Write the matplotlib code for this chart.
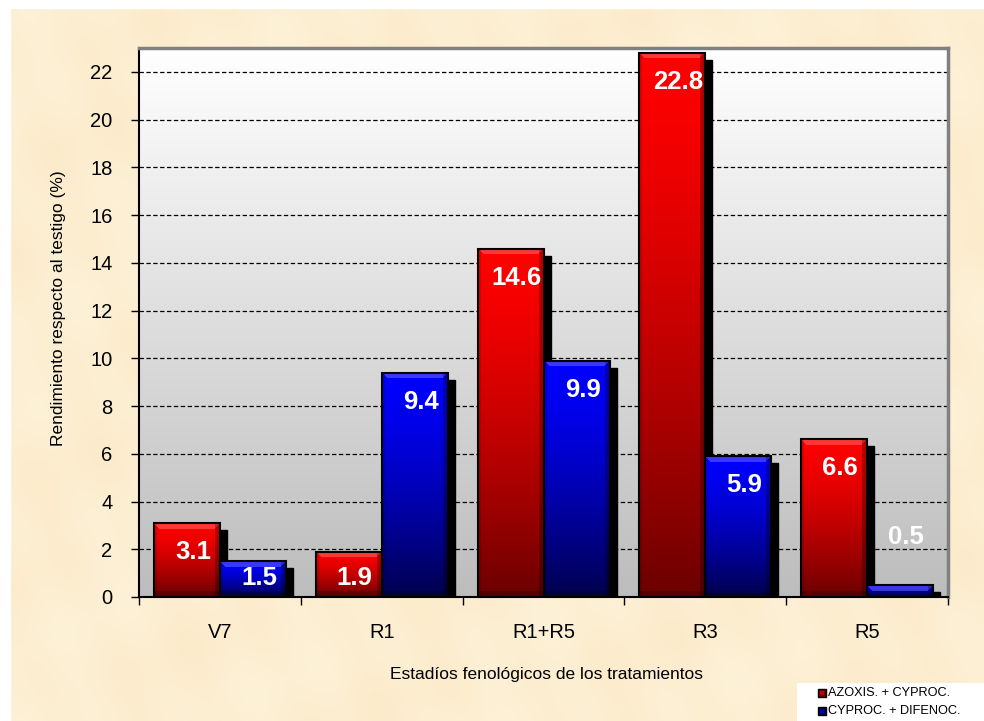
import matplotlib
matplotlib.use("Agg")
import matplotlib.pyplot as plt
import numpy as np
from matplotlib.patches import Rectangle

plt.rcParams["font.family"] = ["Liberation Sans", "DejaVu Sans"]

# datos
estadios = ["V7", "R1", "R1+R5", "R3", "R5"]
azoxis_cyproc = [3.1, 1.9, 14.6, 22.8, 6.6]
cyproc_difenoc = [1.5, 9.4, 9.9, 5.9, 0.5]
series_nombres = ["AZOXIS. + CYPROC.", "CYPROC. + DIFENOC."]
y_ticks = list(range(0, 24, 2))

W, H = 984, 721
fig = plt.figure(figsize=(W / 100, H / 100), dpi=100)

# fondo tipo pergamino
bg = fig.add_axes([0, 0, 1, 1], zorder=-10)
yy, xx = np.mgrid[0:H:4, 0:W:4]
tex = (0.5 + 0.25 * np.sin(xx / 37.0 + yy / 53.0) + 0.2 * np.sin(xx / 13.0 - yy / 29.0)
       + 0.15 * np.cos(xx / 71.0 + yy / 17.0))
base = np.array([0.988, 0.925, 0.800])
claro = np.array([0.995, 0.960, 0.880])
img = base[None, None, :] * (1 - tex[..., None] * 0.5) + claro[None, None, :] * (tex[..., None] * 0.5)
bg.imshow(np.clip(img, 0, 1), extent=[0, W, H, 0], aspect="auto", interpolation="bicubic")
bg.add_patch(Rectangle((0, 0), W, 8, color="white"))
bg.add_patch(Rectangle((0, 0), 10, H, color="white"))
bg.set_xlim(0, W)
bg.set_ylim(H, 0)
bg.axis("off")

# area de trazado
x0, x1, ytop, ybot = 139, 948, 48, 597
ax = fig.add_axes([x0 / W, 1 - ybot / H, (x1 - x0) / W, (ybot - ytop) / H])
ymax = 23.0
ax.set_xlim(-0.5, len(estadios) - 0.5)
ax.set_ylim(0, ymax)

grad = np.linspace(1.0, 0.74, 256)[:, None] * np.ones((1, 2))
ax.imshow(np.dstack([grad] * 3), extent=[-0.5, len(estadios) - 0.5, 0, ymax],
          aspect="auto", zorder=0, interpolation="bilinear")

for t in y_ticks[1:]:
    ax.axhline(t, color="black", lw=0.9, ls=(0, (3.5, 2)), zorder=1)

px_x = (x1 - x0) / len(estadios)   # pixeles por unidad en x
px_y = (ybot - ytop) / ymax         # pixeles por unidad en y


def barra_img(h, top, bottom):
    """Imagen RGB de una barra con degradado vertical y biselado."""
    wpx = 66
    hpx = max(int(round(h * px_y)), 2)
    t = np.linspace(0, 1, hpx)[:, None] ** 1.4
    top = np.array(top)
    bottom = np.array(bottom)
    rgb = top[None, None, :] * (1 - t[..., None]) + bottom[None, None, :] * t[..., None]
    rgb = np.repeat(rgb, wpx, axis=1)
    b = 6
    # biselado: franja superior clara con esquinas diagonales, lados y base oscuros
    for r in range(min(b, hpx)):
        rgb[r, r:wpx - r, :] = rgb[r, r:wpx - r, :] * 0.78 + 0.22
    rgb[:, :3, :] *= 0.88
    rgb[:, -5:, :] *= 0.72
    rgb[-b:, :, :] *= 0.8
    return np.clip(rgb, 0, 1)


ancho = 66 / px_x
sx, sy = 7 / px_x, 7 / px_y
colores = [((1.0, 0.0, 0.0), (0.42, 0.0, 0.0)), ((0.0, 0.0, 1.0), (0.0, 0.0, 0.30))]
z = 2
for i in range(len(estadios)):
    for k, serie in enumerate([azoxis_cyproc, cyproc_difenoc]):
        v = serie[i]
        left = i - ancho if k == 0 else i
        top, bottom = colores[k]
        ax.add_patch(Rectangle((left + sx, 0), ancho, max(v - sy, 0), color="black", zorder=z))
        ax.imshow(barra_img(v, top, bottom), extent=[left, left + ancho, 0, v],
                  aspect="auto", zorder=z + 1, interpolation="bilinear")
        ax.add_patch(Rectangle((left, 0), ancho, v, fill=False, ec="black", lw=1.5, zorder=z + 2))
        if v < 1:
            ty = v + 48 / px_y
        else:
            ty = max(v - 29 / px_y, 19 / px_y)
        ax.text(left + ancho / 2 + 6 / px_x, ty, f"{v:.1f}", ha="center", va="center",
                color="white", fontsize=18.5, fontweight="bold", zorder=z + 3)
        z += 4

ax.set_xlim(-0.5, len(estadios) - 0.5)
ax.set_ylim(0, ymax)
ax.set_yticks(y_ticks)
ax.set_yticklabels([str(t) for t in y_ticks], fontsize=14.5)
ax.set_xticks(np.arange(-0.5, len(estadios), 1.0))
ax.set_xticklabels([])
ax.tick_params(axis="y", direction="out", length=6, width=1, pad=13, colors="black")
ax.tick_params(axis="x", direction="out", length=6, width=1)
for i, e in enumerate(estadios):
    ax.text(i, -1.5, e, ha="center", va="center", fontsize=14.5, clip_on=False)

ax.spines["left"].set_color("black")
ax.spines["bottom"].set_color("black")
ax.spines["left"].set_linewidth(1.5)
ax.spines["bottom"].set_linewidth(1.5)
for s in ("top", "right"):
    ax.spines[s].set_color("#808080")
    ax.spines[s].set_linewidth(2.5)
for s in ax.spines.values():
    s.set_zorder(100)

fig.text(58 / W, 1 - 308 / H, "Rendimiento respecto al testigo (%)", rotation=90,
         ha="center", va="center", fontsize=12.5)
fig.text(546 / W, 1 - 674 / H, "Estadíos fenológicos de los tratamientos",
         ha="center", va="center", fontsize=12.5)

# leyenda
lg = fig.add_axes([797 / W, 0, (W - 797) / W, (H - 683) / H])
lg.set_xlim(797, W)
lg.set_ylim(H, 683)
lg.add_patch(Rectangle((797, 683), W - 797, H - 683, color="white"))
for j, (nombre, (top, bottom)) in enumerate(zip(series_nombres, colores)):
    yc = 693 + j * 18
    lg.add_patch(Rectangle((818, yc - 4), 8, 8, fc=bottom, ec="black", lw=1))
    lg.add_patch(Rectangle((820, yc - 2), 4, 4, fc=top, ec="none", alpha=0.6))
    lg.text(828, yc, nombre, ha="left", va="center", fontsize=9.2)
lg.axis("off")

fig.savefig("out.png", dpi=100)
